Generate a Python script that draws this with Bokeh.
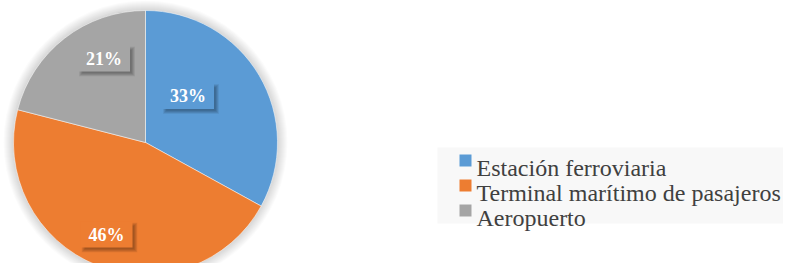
import math
from bokeh.plotting import figure
from bokeh.models import Range1d
from bokeh.core.properties import value
from bokeh.embed import file_html
from bokeh.resources import INLINE

# ---- data ----
categories = ["Estación ferroviaria", "Terminal marítimo de pasajeros", "Aeropuerto"]
values = [33, 46, 21]
colors = ["#5B9BD5", "#ED7D31", "#A5A5A5"]

# ---- layout (picture pixel coordinates) ----
W, H = 783, 263
FONT = "serif"


def X(px):
    return px


def Y(py):
    return H - py


cx, cy, R = 145, 142, 132
label_centers = [(187.5, 95.5), (106, 234), (103.5, 58)]
box_w, box_h = 52, 26
legend_x, legend_y0, legend_dy = 465, 160, 25

p = figure(width=W, height=H, output_backend="svg", toolbar_location=None,
           x_range=Range1d(0, W), y_range=Range1d(0, H),
           min_border=0, outline_line_color=None)
p.axis.visible = False
p.grid.visible = False
p.background_fill_color = "white"
p.border_fill_color = "white"

# legend background band
p.quad(left=X(437), right=W, top=Y(147), bottom=Y(223),
       fill_color="#f8f8f8", line_color=None)

# soft shadow around pie
for k in range(1, 11):
    p.circle(x=X(cx), y=Y(cy), radius=R + k, fill_color="black",
             fill_alpha=0.014, line_color=None)

# pie wedges (clockwise from 12 o'clock)
total = sum(values)
start = 0.0
starts, ends = [], []
for v in values:
    a0 = math.pi / 2 - 2 * math.pi * start / total
    start += v
    a1 = math.pi / 2 - 2 * math.pi * start / total
    starts.append(a0)
    ends.append(a1)
p.wedge(x=[X(cx)] * 3, y=[Y(cy)] * 3, radius=R, start_angle=starts, end_angle=ends,
        direction="clock", fill_color=colors, line_color="white", line_width=0.5)

# data labels with soft shadowed boxes
labels = [f"{round(v / total * 100)}%" for v in values]
for (lx, ly), col, txt in zip(label_centers, colors, labels):
    for k in range(8, 0, -1):
        p.rect(x=X(lx + 3), y=Y(ly + 3), width=box_w - 4 + k, height=box_h - 4 + k,
               fill_color="black", fill_alpha=0.045, line_color=None)
    p.rect(x=X(lx), y=Y(ly), width=box_w, height=box_h, fill_color=col, line_color=None)
    p.text(x=[X(lx)], y=[Y(ly)], text=[txt], text_color="white",
           text_font=value(FONT), text_font_style="bold",
           text_font_size="18px", text_align="center", text_baseline="middle")

# legend
for i, (cat, col) in enumerate(zip(categories, colors)):
    yy = legend_y0 + i * legend_dy
    p.rect(x=X(legend_x), y=Y(yy), width=12, height=12, fill_color=col, line_color=None)
    p.text(x=[X(legend_x + 11)], y=[Y(yy + 7)], text=[cat], text_color="#404040",
           text_font=value(FONT), text_font_size="24px",
           text_align="left", text_baseline="alphabetic")

open("out.html", "w").write(file_html(p, INLINE))
